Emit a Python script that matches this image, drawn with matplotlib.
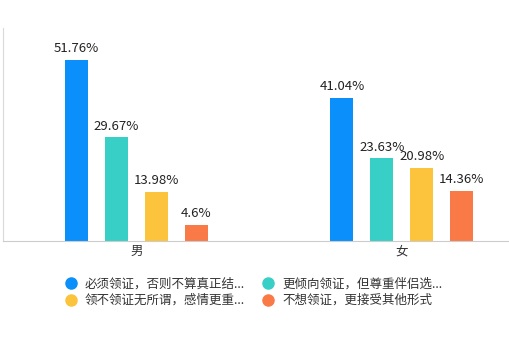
import numpy as np
import matplotlib.pyplot as plt
from matplotlib.lines import Line2D

plt.rcParams['font.family'] = ['Noto Sans CJK SC', 'DejaVu Sans']

# 数据
groups = ['男', '女']
series_names = ['必须领证，否则不算真正结...', '更倾向领证，但尊重伴侣选...',
                '领不领证无所谓，感情更重...', '不想领证，更接受其他形式']
male = [51.76, 29.67, 13.98, 4.6]
female = [41.04, 23.63, 20.98, 14.36]
labels_male = ['51.76%', '29.67%', '13.98%', '4.6%']
labels_female = ['41.04%', '23.63%', '20.98%', '14.36%']
colors = ['#0a8ffb', '#38cfc7', '#fcc43c', '#fa7a47']

fig = plt.figure(figsize=(5.1, 3.4), dpi=100)
ax = fig.add_axes([3 / 510, 1 - 241 / 340, 507 / 510, 213 / 340])

x = np.arange(len(groups))
step = 40 / 265.5
width = 23 / 265.5
values = np.array([male, female])
texts = [labels_male, labels_female]
for i in range(4):
    pos = x + (i - 1.5) * step
    bars = ax.bar(pos, values[:, i], width=width, color=colors[i], zorder=2)
    for b, t in zip(bars, [texts[0][i], texts[1][i]]):
        ax.text(b.get_x() + b.get_width() / 2, b.get_height() + 1.4, t,
                ha='center', va='bottom', fontsize=9.5, color='#222222')

ax.set_xlim(-0.503, 1.407)
ax.set_ylim(0, 61)
ax.set_xticks(x)
ax.set_xticklabels(groups, fontsize=9, color='#333333')
ax.tick_params(axis='x', length=0, pad=3)
ax.set_yticks([])
for s in ['top', 'right']:
    ax.spines[s].set_visible(False)
ax.spines['left'].set_color('#d9d9d9')
ax.spines['bottom'].set_color('#cccccc')
ax.spines['left'].set_linewidth(0.8)
ax.spines['bottom'].set_linewidth(0.8)

# 图例按行排列：先蓝、青，再黄、橙
order = [0, 2, 1, 3]
handles = [Line2D([], [], marker='o', linestyle='', markersize=8,
                  markerfacecolor=colors[k], markeredgecolor=colors[k]) for k in order]
fig.legend(handles, [series_names[k] for k in order], loc='upper left', ncol=2,
           bbox_to_anchor=(52 / 510, 1 - 266 / 340), frameon=False,
           fontsize=9, handletextpad=0.5, columnspacing=1.3,
           labelspacing=0.3, handlelength=1.2, labelcolor='#333333')

fig.savefig('out.png', dpi=100, facecolor='white')
